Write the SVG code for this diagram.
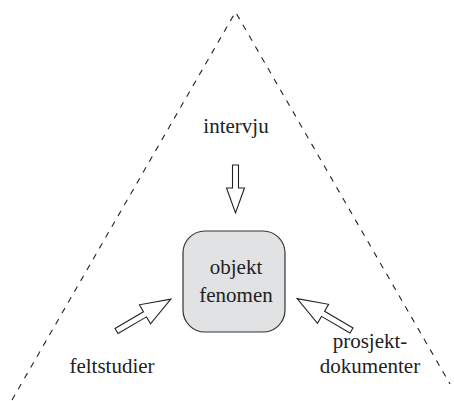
<svg xmlns="http://www.w3.org/2000/svg" width="454" height="401" viewBox="0 0 454 401">
  <style>
    .lbl { font-family: 'Liberation Serif', 'DejaVu Serif', serif; font-size: 21px; fill: #222; text-anchor: middle; }
    .frame { fill: none; stroke: #222; stroke-width: 1.1; stroke-dasharray: 6 6.5; }
    .arrow { fill: #fff; stroke: #222; stroke-width: 1.1; stroke-linejoin: miter; }
    .box { fill: #e1e2e3; stroke: #333; stroke-width: 1.2; }
  </style>
  <defs>
    <!-- hollow block arrows drawn along +x, tail at origin -->
    <path id="arrowLong" d="M0,-3 L33,-3 L33,-11 L63,0 L33,11 L33,3 L0,3 Z"/>
    <path id="arrowShort" d="M0,-3 L23,-3 L23,-9 L48,0 L23,9 L23,3 L0,3 Z"/>
  </defs>

  <!-- dashed triangle frame -->
  <g id="frame">
    <path class="frame" d="M12,400 L235.5,12 L450,384"/>
  </g>

  <g id="center">
    <rect class="box" x="183" y="231" width="102" height="101" rx="22" ry="22"/>
    <text class="lbl" x="236" y="274">objekt</text>
    <text class="lbl" x="236" y="302">fenomen</text>
  </g>

  <g id="intervju">
    <text class="lbl" x="236" y="133">intervju</text>
  </g>

  <g id="feltstudier">
    <text class="lbl" x="112" y="373">feltstudier</text>
  </g>

  <g id="prosjektdokumenter">
    <text class="lbl" x="370" y="348">prosjekt-</text>
    <text class="lbl" x="370" y="373">dokumenter</text>
  </g>

  <g id="connectors">
    <use href="#arrowShort" class="arrow" transform="translate(235.5,165) rotate(90)"/>
    <use href="#arrowLong" class="arrow" transform="translate(116.5,331) rotate(-30.4)"/>
    <use href="#arrowLong" class="arrow" transform="translate(351.5,330.5) rotate(-149.6)"/>
  </g>
</svg>
